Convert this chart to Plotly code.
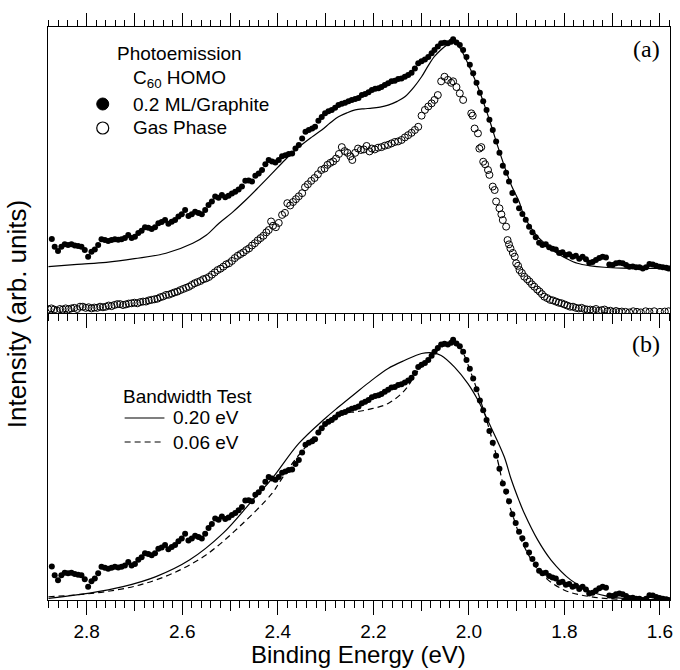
import plotly.graph_objects as go

# ---------------- data (panel (a) intensity units) ----------------
ml_x = [2.873,2.867,2.860,2.853,2.846,2.839,2.832,2.825,2.818,2.811,2.804,2.797,2.790,2.783,2.776,2.769,2.762,2.755,2.748,2.741,
        2.734,2.727,2.720,2.713,2.706,2.699,2.692,2.685,2.678,2.671,2.664,2.657,2.650,2.643,2.636,2.629,2.622,2.615,2.608,2.601,
        2.594,2.587,2.580,2.573,2.566,2.559,2.552,2.545,2.538,2.531,2.524,2.517,2.510,2.503,2.496,2.489,2.482,2.475,2.468,2.461,
        2.454,2.447,2.440,2.433,2.426,2.419,2.412,2.405,2.398,2.391,2.384,2.377,2.370,2.363,2.356,2.349,2.342,2.335,2.328,2.322,
        2.315,2.308,2.301,2.294,2.287,2.280,2.273,2.266,2.259,2.252,2.245,2.238,2.231,2.224,2.217,2.210,2.203,2.196,2.189,2.183,
        2.176,2.169,2.162,2.155,2.148,2.141,2.134,2.127,2.120,2.113,2.106,2.099,2.092,2.085,2.078,2.072,2.065,2.058,2.051,2.044,
        2.037,2.033,2.026,2.019,2.012,2.005,1.998,1.991,1.984,1.977,1.970,1.963,1.957,1.950,1.943,1.936,1.929,1.922,1.916,1.909,
        1.902,1.895,1.888,1.881,1.874,1.867,1.860,1.853,1.846,1.839,1.832,1.825,1.818,1.811,1.804,1.797,1.790,1.783,1.776,1.769,
        1.762,1.755,1.748,1.741,1.734,1.727,1.720,1.713,1.706,1.699,1.692,1.685,1.678,1.671,1.664,1.657,1.650,1.643,1.636,1.629,
        1.622,1.615,1.608,1.601,1.594,1.587,1.582]
ml_y = [0.259,0.232,0.217,0.232,0.240,0.238,0.240,0.236,0.234,0.232,0.220,0.197,0.214,0.222,0.238,0.258,0.255,0.252,0.255,0.258,
        0.256,0.258,0.262,0.273,0.262,0.267,0.280,0.288,0.300,0.298,0.294,0.300,0.314,0.318,0.325,0.312,0.319,0.325,0.337,0.345,
        0.360,0.339,0.345,0.354,0.350,0.345,0.360,0.378,0.390,0.407,0.403,0.413,0.405,0.410,0.418,0.424,0.432,0.442,0.462,0.463,
        0.460,0.480,0.488,0.500,0.520,0.535,0.530,0.526,0.535,0.548,0.552,0.556,0.558,0.575,0.587,0.610,0.634,0.640,0.645,0.651,
        0.672,0.685,0.698,0.705,0.710,0.718,0.727,0.732,0.735,0.740,0.745,0.748,0.752,0.762,0.766,0.772,0.780,0.784,0.786,0.790,
        0.797,0.803,0.810,0.812,0.818,0.820,0.826,0.832,0.840,0.855,0.873,0.880,0.886,0.895,0.908,0.920,0.932,0.943,0.945,0.943,
        0.948,0.957,0.946,0.937,0.920,0.895,0.868,0.838,0.805,0.770,0.740,0.710,0.676,0.640,0.600,0.560,0.515,0.490,0.460,0.420,
        0.393,0.366,0.346,0.326,0.302,0.282,0.265,0.246,0.238,0.240,0.230,0.225,0.222,0.210,0.212,0.203,0.205,0.197,0.200,0.190,
        0.197,0.188,0.176,0.178,0.185,0.192,0.197,0.194,0.170,0.168,0.174,0.176,0.174,0.168,0.162,0.163,0.160,0.160,0.156,0.160,
        0.171,0.170,0.165,0.162,0.160,0.158,0.156]

gas_x = [2.880,2.874,2.868,2.862,2.856,2.850,2.844,2.838,2.832,2.826,2.820,2.814,2.808,2.802,2.796,2.790,2.784,2.778,2.772,2.766,
         2.760,2.754,2.748,2.742,2.736,2.730,2.724,2.718,2.712,2.706,2.700,2.694,2.688,2.682,2.676,2.670,2.664,2.658,2.652,2.646,
         2.640,2.634,2.628,2.622,2.616,2.610,2.604,2.598,2.592,2.586,2.580,2.574,2.568,2.562,2.556,2.550,2.544,2.538,2.532,2.526,
         2.520,2.514,2.508,2.502,2.496,2.490,2.484,2.478,2.472,2.466,2.460,2.454,2.448,2.442,2.436,2.430,2.424,2.419,2.414,2.410,
         2.404,2.398,2.391,2.385,2.380,2.374,2.368,2.362,2.356,2.349,2.343,2.337,2.330,2.323,2.316,2.309,2.302,2.296,2.290,2.284,
         2.278,2.272,2.266,2.260,2.254,2.248,2.244,2.238,2.232,2.226,2.220,2.214,2.208,2.203,2.197,2.190,2.183,2.176,2.169,2.162,
         2.155,2.148,2.141,2.134,2.127,2.120,2.113,2.106,2.099,2.092,2.085,2.078,2.072,2.065,2.058,2.051,2.044,2.037,2.033,2.026,
         2.019,2.012,1.995,1.992,1.988,1.981,1.978,1.974,1.970,1.966,1.960,1.957,1.950,1.946,1.943,1.936,1.932,1.929,1.922,1.919,
         1.916,1.913,1.908,1.904,1.901,1.897,1.894,1.889,1.884,1.878,1.873,1.868,1.863,1.857,1.852,1.847,1.842,1.836,1.830,1.824,
         1.818,1.812,1.806,1.800,1.794,1.788,1.782,1.776,1.770,1.764,1.758,1.752,1.746,1.740,1.734,1.728,1.722,1.716,1.710,1.704,
         1.698,1.692,1.686,1.680,1.672,1.664,1.656,1.648,1.640,1.630,1.622,1.612,1.600,1.590,1.582]
gas_y = [0.013,0.016,0.012,0.008,0.014,0.012,0.016,0.013,0.016,0.018,0.014,0.022,0.022,0.018,0.020,0.016,0.019,0.018,0.022,0.020,
         0.022,0.026,0.024,0.028,0.031,0.031,0.028,0.030,0.033,0.034,0.036,0.034,0.038,0.040,0.040,0.044,0.046,0.048,0.050,0.055,
         0.058,0.063,0.064,0.068,0.072,0.075,0.080,0.084,0.088,0.092,0.098,0.104,0.108,0.112,0.118,0.121,0.126,0.134,0.142,0.150,
         0.155,0.162,0.170,0.174,0.182,0.192,0.200,0.206,0.212,0.220,0.226,0.236,0.244,0.254,0.262,0.270,0.282,0.290,0.320,0.305,
         0.300,0.315,0.343,0.350,0.384,0.376,0.388,0.398,0.408,0.419,0.440,0.450,0.462,0.472,0.485,0.500,0.505,0.518,0.525,0.530,
         0.540,0.556,0.580,0.566,0.560,0.548,0.535,0.560,0.575,0.570,0.572,0.584,0.565,0.575,0.572,0.578,0.580,0.585,0.588,0.593,
         0.598,0.600,0.605,0.614,0.622,0.630,0.640,0.651,0.690,0.710,0.722,0.733,0.745,0.762,0.810,0.826,0.815,0.805,0.810,0.790,
         0.768,0.745,0.698,0.690,0.645,0.628,0.575,0.580,0.529,0.520,0.500,0.483,0.442,0.430,0.390,0.366,0.345,0.325,0.302,0.255,
         0.240,0.226,0.210,0.197,0.174,0.165,0.150,0.140,0.127,0.118,0.110,0.100,0.092,0.082,0.075,0.066,0.057,0.052,0.046,0.044,
         0.040,0.036,0.034,0.030,0.026,0.022,0.022,0.018,0.016,0.018,0.014,0.012,0.012,0.010,0.014,0.008,0.010,0.012,0.006,0.008,
         0.004,0.007,0.004,0.005,0.004,0.002,0.006,0.004,0.002,0.006,0.004,0.006,0.004,0.005,0.006]

fit_a_x = [2.880,2.820,2.759,2.700,2.634,2.578,2.550,2.523,2.495,2.467,2.440,2.412,2.385,2.356,2.329,2.308,2.290,2.273,2.255,2.238,
           2.220,2.203,2.186,2.169,2.150,2.134,2.115,2.099,2.085,2.072,2.060,2.051,2.043,2.037,2.030,2.020,2.009,1.995,1.981,1.967,
           1.954,1.940,1.925,1.910,1.895,1.884,1.870,1.856,1.835,1.815,1.795,1.773,1.745,1.717,1.680,1.640,1.600,1.579]
fit_a_y = [0.162,0.170,0.177,0.190,0.209,0.244,0.272,0.314,0.352,0.395,0.440,0.488,0.535,0.580,0.615,0.640,0.665,0.686,0.700,0.710,
           0.714,0.716,0.720,0.727,0.740,0.756,0.790,0.826,0.865,0.897,0.918,0.931,0.940,0.945,0.945,0.930,0.897,0.846,0.790,0.725,
           0.660,0.585,0.510,0.442,0.390,0.337,0.298,0.267,0.235,0.209,0.190,0.174,0.165,0.160,0.157,0.156,0.156,0.156]

bw20_x = [2.880,2.794,2.724,2.655,2.585,2.515,2.453,2.412,2.356,2.301,2.273,2.238,2.203,2.169,2.134,2.099,2.075,2.058,2.030,2.002,
          1.981,1.954,1.926,1.912,1.895,1.884,1.856,1.828,1.787,1.745,1.697,1.640,1.579]
bw20_y = [0.161,0.177,0.197,0.228,0.279,0.361,0.463,0.530,0.638,0.715,0.750,0.792,0.833,0.869,0.894,0.915,0.917,0.909,0.873,0.822,
          0.771,0.689,0.597,0.530,0.462,0.423,0.341,0.279,0.218,0.182,0.164,0.158,0.157]

bw06_x = [2.880,2.820,2.759,2.690,2.620,2.551,2.481,2.412,2.398,2.370,2.342,2.308,2.273,2.238,2.203,2.169,2.134,2.106,2.078,2.065,
          2.044,2.030,2.015,1.995,1.967,1.940,1.929,1.919,1.909,1.884,1.849,1.801,1.745,1.683,1.579]
bw06_y = [0.166,0.172,0.182,0.202,0.238,0.294,0.381,0.484,0.515,0.576,0.627,0.689,0.730,0.735,0.745,0.761,0.802,0.863,0.904,0.925,
          0.945,0.950,0.925,0.853,0.730,0.587,0.515,0.465,0.420,0.320,0.238,0.187,0.166,0.158,0.156]

x_range = [2.881, 1.579]
ya_range = [0.0, 1.0]
yb_range = [0.156, 1.0396]

legend_a_title = ["Photoemission", "C<sub>60</sub> HOMO"]
legend_a_items = ["0.2 ML/Graphite", "Gas Phase"]
legend_b_title = "Bandwidth Test"
legend_b_items = ["0.20 eV", "0.06 eV"]

FONT = "Liberation Sans, Arial, Helvetica, sans-serif"
SERIF = "Liberation Serif, Times New Roman, serif"

fig = go.Figure()

# Panel (a)
fig.add_trace(go.Scatter(x=fit_a_x, y=fit_a_y, mode="lines", line=dict(color="black", width=1.2, shape="spline"),
                         showlegend=False, xaxis="x", yaxis="y"))
fig.add_trace(go.Scatter(x=ml_x, y=ml_y, mode="markers", name=legend_a_items[0], showlegend=False,
                         marker=dict(symbol="circle", size=6, color="black"), xaxis="x", yaxis="y"))
fig.add_trace(go.Scatter(x=gas_x, y=gas_y, mode="markers", name=legend_a_items[1], showlegend=False,
                         marker=dict(symbol="circle-open", size=7, color="black", line=dict(width=1)),
                         xaxis="x", yaxis="y"))

# Panel (b)
fig.add_trace(go.Scatter(x=bw20_x, y=bw20_y, mode="lines", name=legend_b_items[0], showlegend=False,
                         line=dict(color="black", width=1.2, shape="spline"), xaxis="x2", yaxis="y2"))
fig.add_trace(go.Scatter(x=bw06_x, y=bw06_y, mode="lines", name=legend_b_items[1], showlegend=False,
                         line=dict(color="black", width=1.2, dash="6px,4px", shape="spline"), xaxis="x2", yaxis="y2"))
fig.add_trace(go.Scatter(x=ml_x, y=ml_y, mode="markers", showlegend=False,
                         marker=dict(symbol="circle", size=6, color="black"), xaxis="x2", yaxis="y2"))

# empty traces so that the extra tick-only axes get drawn
for xa, ya in [("x3", "y"), ("x4", "y"), ("x5", "y2")]:
    fig.add_trace(go.Scatter(x=[], y=[], xaxis=xa, yaxis=ya, showlegend=False, hoverinfo="skip"))

split = 287 / 573

common_x = dict(range=x_range, autorange=False, showgrid=False, zeroline=False,
                color="black", tickcolor="black", tickwidth=1)
minor_short = dict(ticks="outside", dtick=0.02, tick0=0, ticklen=7, tickcolor="black", tickwidth=1)

fig.update_layout(
    width=680, height=670,
    margin=dict(l=48, r=7, t=27, b=70),
    paper_bgcolor="white", plot_bgcolor="white",
    font=dict(family=FONT, color="black", size=19),
    showlegend=False,
    xaxis=dict(**common_x, anchor="y", side="bottom", showline=True, linecolor="black", linewidth=1,
               ticks="outside", dtick=0.2, tick0=0, ticklen=14, showticklabels=False, minor=minor_short),
    xaxis3=dict(**common_x, anchor="y", overlaying="x", side="top", showline=True, linecolor="black", linewidth=1,
                ticks="outside", dtick=0.1, tick0=0, ticklen=13, showticklabels=False,
                minor=dict(ticks="outside", dtick=0.02, tick0=0, ticklen=6, tickcolor="black", tickwidth=1)),
    xaxis4=dict(**common_x, anchor="y", overlaying="x", side="bottom", showline=False,
                ticks="outside", dtick=0.1, tick0=0, ticklen=10, showticklabels=False),
    xaxis2=dict(**common_x, anchor="y2", side="bottom", showline=True, linecolor="black", linewidth=1,
                ticks="outside", dtick=0.2, tick0=0, ticklen=14, showticklabels=True, tickformat=".1f",
                tickfont=dict(size=19, family=FONT), ticklabelstandoff=0, minor=minor_short),
    xaxis5=dict(**common_x, anchor="y2", overlaying="x2", side="bottom", showline=False,
                ticks="outside", dtick=0.1, tick0=0, ticklen=10, showticklabels=False),
    yaxis=dict(domain=[split, 1], range=ya_range, autorange=False, showline=True, mirror=True,
               linecolor="black", linewidth=1, ticks="", showticklabels=False, showgrid=False, zeroline=False),
    yaxis2=dict(domain=[0, split], range=yb_range, autorange=False, showline=True, mirror=True,
                linecolor="black", linewidth=1, ticks="", showticklabels=False, showgrid=False, zeroline=False),
)

def px_x(p):
    return (p - 48) / 625.0

def px_y(p):
    return (600 - p) / 573.0

ann = []
# legend (a)
ann.append(dict(text=legend_a_title[0], x=px_x(180), y=px_y(53), xanchor="center", yanchor="middle"))
ann.append(dict(text=legend_a_title[1], x=px_x(180), y=px_y(79), xanchor="center", yanchor="middle"))
ann.append(dict(text=legend_a_items[0], x=px_x(131), y=px_y(104), xanchor="left", yanchor="middle"))
ann.append(dict(text=legend_a_items[1], x=px_x(131), y=px_y(128), xanchor="left", yanchor="middle"))
# legend (b)
ann.append(dict(text=legend_b_title, x=px_x(121), y=px_y(396), xanchor="left", yanchor="middle"))
ann.append(dict(text=legend_b_items[0], x=px_x(172), y=px_y(418), xanchor="left", yanchor="middle"))
ann.append(dict(text=legend_b_items[1], x=px_x(172), y=px_y(442), xanchor="left", yanchor="middle"))
for a in ann:
    a.update(xref="paper", yref="paper", showarrow=False, font=dict(family=FONT, size=19, color="black"))

ann += [
    dict(text="(a)", x=px_x(649), y=px_y(49), xref="paper", yref="paper", showarrow=False,
         xanchor="center", yanchor="middle", font=dict(family=SERIF, size=24, color="black")),
    dict(text="(b)", x=px_x(649), y=px_y(344), xref="paper", yref="paper", showarrow=False,
         xanchor="center", yanchor="middle", font=dict(family=SERIF, size=24, color="black")),
    dict(text="Binding Energy (eV)", x=px_x(360), y=px_y(654), xref="paper", yref="paper", showarrow=False,
         xanchor="center", yanchor="middle", font=dict(family=FONT, size=24, color="black")),
    dict(text="Intensity (arb. units)", x=px_x(17), y=px_y(314), xref="paper", yref="paper", showarrow=False,
         textangle=-90, xanchor="center", yanchor="middle", font=dict(family=FONT, size=26, color="black")),
]

shapes = [
    dict(type="circle", xref="paper", yref="paper", xsizemode="pixel", ysizemode="pixel",
         xanchor=px_x(103), yanchor=px_y(104), x0=-6, x1=6, y0=-6, y1=6,
         fillcolor="black", line=dict(color="black", width=1)),
    dict(type="circle", xref="paper", yref="paper", xsizemode="pixel", ysizemode="pixel",
         xanchor=px_x(103), yanchor=px_y(128), x0=-6, x1=6, y0=-6, y1=6,
         fillcolor="white", line=dict(color="black", width=1.2)),
    dict(type="line", xref="paper", yref="paper", x0=px_x(125), x1=px_x(165), y0=px_y(418), y1=px_y(418),
         line=dict(color="black", width=1.2)),
    dict(type="line", xref="paper", yref="paper", x0=px_x(125), x1=px_x(165), y0=px_y(442), y1=px_y(442),
         line=dict(color="black", width=1.2, dash="6px,4px")),
]

fig.update_layout(annotations=ann, shapes=shapes)

fig.write_html("out.html")
